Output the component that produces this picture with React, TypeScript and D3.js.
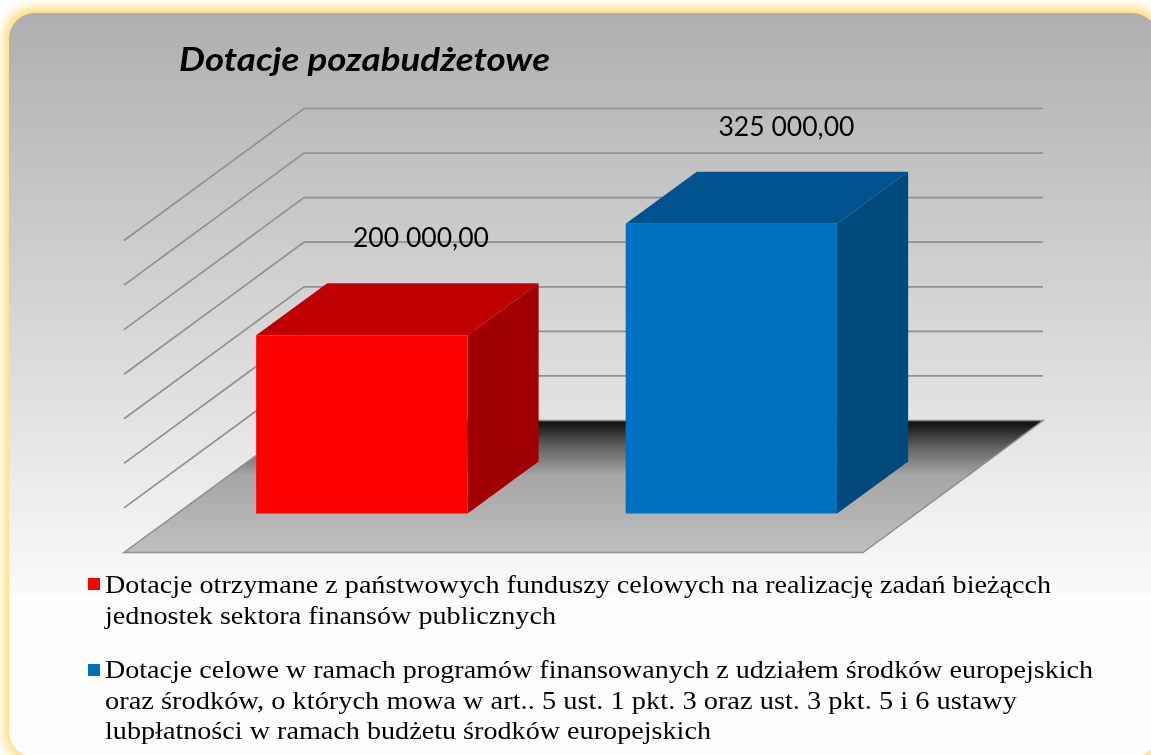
import React from "react";
import * as d3 from "d3";

const W = 1151;
const H = 755;

const chartTitle = "Dotacje pozabudżetowe";
const categories = ["Dotacje otrzymane", "Dotacje celowe"];
const values = [200000, 325000];
const valueLabels = ["200 000,00", "325 000,00"];
const labelShift = [-12, -16];
const tickCount = 7;
const frontColors = ["#ff0000", "#0070c0"];
const topColors = ["#c00000", "#00538e"];
const sideColors = ["#a00000", "#00497c"];

const legendRed = [
  "Dotacje otrzymane z państwowych funduszy celowych na realizację zadań bieżącch",
  "jednostek sektora finansów publicznych",
];
const legendBlue = [
  "Dotacje celowe w ramach programów finansowanych z udziałem środków europejskich",
  "oraz środków, o których mowa w art.. 5 ust. 1 pkt. 3 oraz ust. 3 pkt. 5 i 6 ustawy",
  "lubpłatności w ramach budżetu środków europejskich",
];
const legendRedWidths = [946, 451];
const legendBlueWidths = [988, 912, 606];

// floor front edge and how far the depth axis runs
const floorLeft = 124;
const floorRight = 863;
const floorFront = 552.5;
const depthX = 180;
const depthY = 132;
const barDepth = [0.295, 0.69];

const x = d3.scaleBand<string>().domain(categories).range([floorLeft, floorRight]).paddingInner(0.428).paddingOuter(0.214);
const height = d3.scaleLinear().domain([0, 350000]).range([0, 312]);
const ticks = d3.range(0, 350001, 350000 / tickCount);

// oblique projection: x along the front edge, v up, d into the depth
function project(px: number, v: number, d: number): [number, number] {
  return [px + d * depthX, floorFront - d * depthY - height(v)];
}

const poly = d3.line();

export default function App() {
  const [d0, d1] = barDepth;
  return (
    <svg width={W} height={H} viewBox={`0 0 ${W} ${H}`} style={{ position: "absolute", top: 0, left: 0 }}>
      <defs>
        <linearGradient id="panel" gradientUnits="userSpaceOnUse" x1="0" y1="13" x2="0" y2="596">
          <stop offset="0" stopColor="#afafaf" />
          <stop offset="0.5" stopColor="#d4d4d4" />
          <stop offset="1" stopColor="#fafafa" />
        </linearGradient>
        <linearGradient id="floor" gradientUnits="userSpaceOnUse" x1="0" y1="420" x2="0" y2="552">
          <stop offset="0" stopColor="#0a0a0a" />
          <stop offset="0.2" stopColor="#606060" />
          <stop offset="0.42" stopColor="#a6a6a6" />
          <stop offset="1" stopColor="#bfbfbf" />
        </linearGradient>
        <filter id="glow" x="-5%" y="-5%" width="110%" height="110%">
          <feGaussianBlur stdDeviation="6" />
        </filter>
        <filter id="soft" x="-2%" y="-2%" width="104%" height="104%">
          <feGaussianBlur stdDeviation="0.45" />
        </filter>
        <clipPath id="panelClip">
          <rect x={9} y={13} width={1149} height={744} rx={26} />
        </clipPath>
      </defs>

      <rect width={W} height={H} fill="#ffffff" />
      <rect x={5} y={8} width={1156} height={754} rx={28} fill="#ffd86c" filter="url(#glow)" />
      <rect x={9} y={13} width={1149} height={744} rx={26} fill="url(#panel)" />
      <rect x={9} y={596} width={1149} height={170} fill="#fefefe" clipPath="url(#panelClip)" />

      <g filter="url(#soft)">
        <text x={179} y={71} fontFamily="Lato" fontWeight={700} fontStyle="italic" fontSize={32} fill="#000000" textLength={371} lengthAdjust="spacingAndGlyphs">
          {chartTitle}
        </text>

        {ticks.slice(1).map((t) => (
          <path
            key={t}
            d={poly([project(floorLeft, t, 0), project(floorLeft, t, 1), project(floorRight, t, 1)]) as string}
            fill="none"
            stroke="#919191"
            strokeWidth={1.7}
          />
        ))}

        <path
          d={poly([project(floorLeft, 0, 0), project(floorRight, 0, 0), project(floorRight, 0, 1), project(floorLeft, 0, 1)]) + "Z"}
          fill="url(#floor)"
          stroke="#8f8f8f"
          strokeWidth={1.5}
        />

        {categories.map((c, i) => {
          const a = x(c) as number;
          const b = a + x.bandwidth();
          const v = values[i];
          return (
            <g key={c}>
              <path
                d={poly([project(b, 0, d0), project(b, 0, d1), project(b, v, d1), project(b, v, d0)]) + "Z"}
                fill={sideColors[i]}
              />
              <path
                d={poly([project(a, v, d0), project(b, v, d0), project(b, v, d1), project(a, v, d1)]) + "Z"}
                fill={topColors[i]}
              />
              <path
                d={poly([project(a, 0, d0), project(b, 0, d0), project(b, v, d0), project(a, v, d0)]) + "Z"}
                fill={frontColors[i]}
              />
              <text
                x={project((a + b) / 2, v, d1)[0] + labelShift[i]}
                y={project(a, v, d1)[1] - 36}
                textAnchor="middle"
                fontFamily="Lato"
                fontSize={27}
                fill="#000000"
                textLength={136}
                lengthAdjust="spacingAndGlyphs"
              >
                {valueLabels[i]}
              </text>
            </g>
          );
        })}

        <rect x={88} y={578} width={12} height={12} fill={frontColors[0]} />
        {legendRed.map((line, i) => (
          <text key={line} x={105} y={593 + i * 31} fontFamily="'Liberation Serif'" fontSize={25} fill="#000000" textLength={legendRedWidths[i]} lengthAdjust="spacingAndGlyphs">
            {line}
          </text>
        ))}

        <rect x={88} y={664} width={12} height={12} fill={frontColors[1]} />
        {legendBlue.map((line, i) => (
          <text key={line} x={105} y={678 + i * 30.5} fontFamily="'Liberation Serif'" fontSize={25} fill="#000000" textLength={legendBlueWidths[i]} lengthAdjust="spacingAndGlyphs">
            {line}
          </text>
        ))}
      </g>
    </svg>
  );
}
